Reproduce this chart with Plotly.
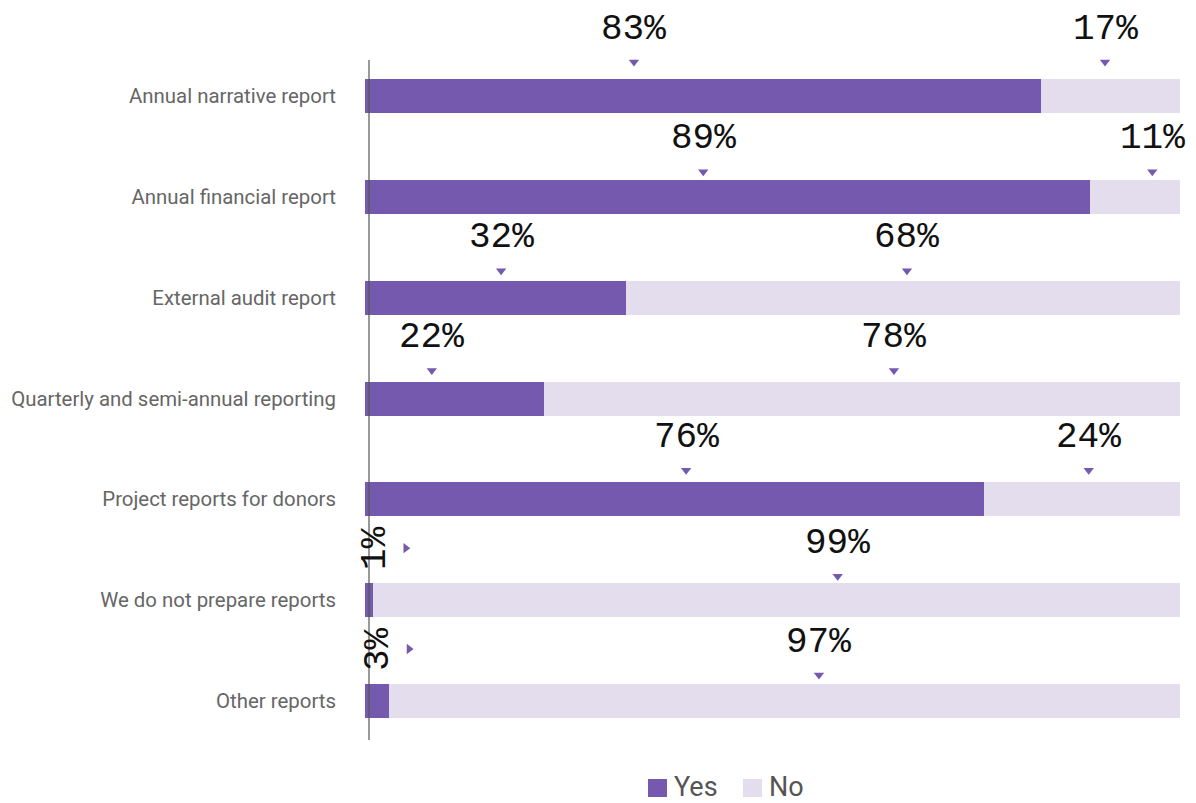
import plotly.graph_objects as go

# Survey: which reports does the organisation prepare?
categories = [
    "Annual narrative report",
    "Annual financial report",
    "External audit report",
    "Quarterly and semi-annual reporting",
    "Project reports for donors",
    "We do not prepare reports",
    "Other reports",
]
yes_pct = [83, 89, 32, 22, 76, 1, 3]
no_pct = [17, 11, 68, 78, 24, 99, 97]

# Where each value callout sits along the 0-100 axis
yes_label_at = [33.0, 41.5, 16.7, 8.2, 39.4, 1.2, 1.6]
no_label_at = [90.8, 96.6, 66.5, 64.9, 88.8, 58.0, 55.7]
# Height of the pointer above the bar centre, in pixels
pointer_lift = [34, 25, 27, 28, 29, 24, 26]

YES_COLOR = "#7559AF"
NO_COLOR = "#E3DDEE"
ROW_PX = 100.83          # pixel distance between rows
PLOT_L, PLOT_R, PLOT_T, PLOT_B = 365, 16, 60, 63
W, H = 1196, 803

rows = list(range(len(categories)))

fig = go.Figure()
fig.add_trace(go.Bar(
    y=rows, x=yes_pct, orientation="h", name="Yes",
    marker=dict(color=YES_COLOR, line=dict(width=0)),
    width=34 / ROW_PX, hoverinfo="x+name",
))
fig.add_trace(go.Bar(
    y=rows, x=no_pct, orientation="h", name="No",
    marker=dict(color=NO_COLOR, line=dict(width=0)),
    width=34 / ROW_PX, hoverinfo="x+name",
))

# Pointers and value callouts
down_x, down_y, right_x, right_y = [], [], [], []
annotations = []
label_font = dict(family="Liberation Mono, DejaVu Sans Mono, monospace", size=36, color="#111")
for i in rows:
    lift = pointer_lift[i] / ROW_PX
    for val, at in ((yes_pct[i], yes_label_at[i]), (no_pct[i], no_label_at[i])):
        if val < 5:
            # Narrow segment: rotated label with a side pointer
            py = i - 52 / ROW_PX
            right_x.append(at + 3.8)
            right_y.append(py)
            annotations.append(dict(
                x=at, y=py, xref="x", yref="y", text=f"{val}%",
                showarrow=False, textangle=-90, font=label_font,
                xanchor="center", yanchor="middle",
            ))
        else:
            py = i - lift
            down_x.append(at)
            down_y.append(py)
            annotations.append(dict(
                x=at, y=py, yshift=33, xref="x", yref="y", text=f"{val}%",
                showarrow=False, font=label_font,
                xanchor="center", yanchor="middle",
            ))

fig.add_trace(go.Scatter(
    x=down_x, y=down_y, mode="markers", hoverinfo="skip",
    marker=dict(symbol="triangle-down", size=9, color=YES_COLOR),
    showlegend=False, cliponaxis=False,
))
fig.add_trace(go.Scatter(
    x=right_x, y=right_y, mode="markers", hoverinfo="skip",
    marker=dict(symbol="triangle-right", size=9, color=YES_COLOR),
    showlegend=False, cliponaxis=False,
))

# Hand-drawn legend below the plot
plot_w = W - PLOT_L - PLOT_R
plot_h = H - PLOT_T - PLOT_B
def px_x(p):
    return (p - PLOT_L) / plot_w
def px_y(p):
    return (H - PLOT_B - p) / plot_h

legend_items = [("Yes", YES_COLOR, 648), ("No", NO_COLOR, 743)]
shapes = []
for name, color, left in legend_items:
    shapes.append(dict(
        type="rect", xref="paper", yref="paper",
        x0=px_x(left), x1=px_x(left + 19), y0=px_y(797), y1=px_y(779),
        fillcolor=color, line=dict(width=0),
    ))
    annotations.append(dict(
        x=px_x(left + 24), y=px_y(787), xref="paper", yref="paper",
        text=name, showarrow=False, xanchor="left", yanchor="middle",
        font=dict(family="Roboto, sans-serif", size=27, color="#555"),
    ))

# Baseline rule
shapes.append(dict(
    type="line", xref="paper", yref="paper",
    x0=4 / plot_w, x1=4 / plot_w, y0=0, y1=1,
    line=dict(color="#555", width=1.2),
))

fig.update_layout(
    width=W, height=H,
    barmode="stack",
    showlegend=False,
    plot_bgcolor="white", paper_bgcolor="white",
    margin=dict(l=PLOT_L, r=PLOT_R, t=PLOT_T, b=PLOT_B, pad=0),
    xaxis=dict(range=[0, 100], visible=False, fixedrange=True),
    yaxis=dict(
        range=[6 + 39 / ROW_PX, -36 / ROW_PX],
        tickvals=rows, ticktext=categories,
        showgrid=False, zeroline=False, showline=False, ticks="",
        ticklabelstandoff=28,
        tickfont=dict(family="Roboto, sans-serif", size=20.4, color="#666"),
    ),
    annotations=annotations,
    shapes=shapes,
)

fig.write_html("out.html")
